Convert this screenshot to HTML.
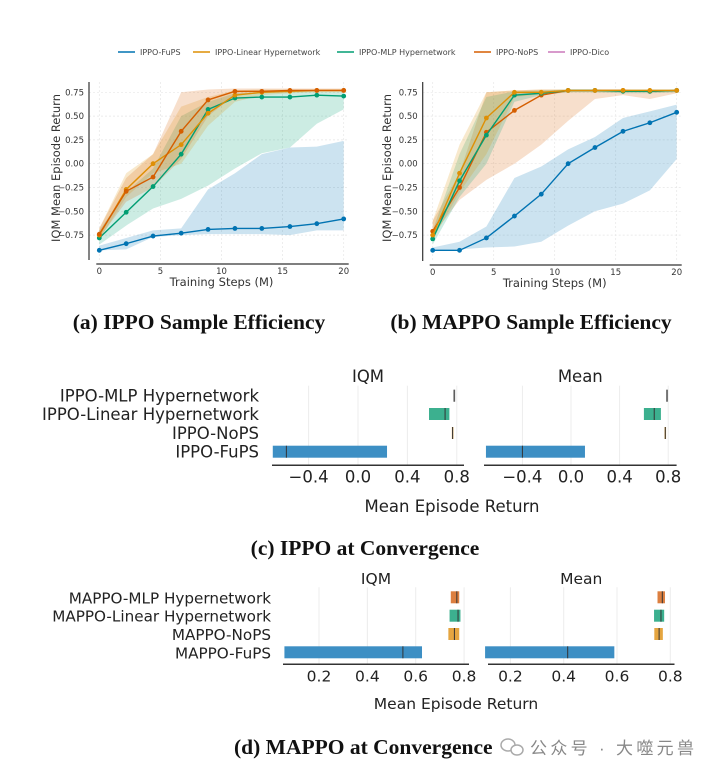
<!DOCTYPE html>
<html><head><meta charset="utf-8"><style>
html,body{margin:0;padding:0;background:#fff;width:718px;height:780px;overflow:hidden}
svg{display:block}
.tk{font-family:"DejaVu Sans","Liberation Sans",sans-serif;font-size:8.5px;fill:#333}
.lab{font-family:"DejaVu Sans","Liberation Sans",sans-serif;font-size:11.5px;fill:#333}
.big{font-family:"DejaVu Sans","Liberation Sans",sans-serif;font-size:16.5px;fill:#222}
#pd .big{font-size:15.5px}
#pd .mlab{font-size:15.2px}
.cap{font-family:"Liberation Serif",serif;font-size:21.5px;font-weight:bold;fill:#111}
.leg{font-family:"DejaVu Sans","Liberation Sans",sans-serif;font-size:8px;fill:#444}
</style></head><body>
<svg id="fig" width="718" height="780" xmlns="http://www.w3.org/2000/svg">
<g id="legend"></g>
<g id="pa"></g>
<g id="pb"></g>
<g id="pc"></g>
<g id="pd"></g>
<text class="cap" x="199" y="329" text-anchor="middle">(a) IPPO Sample Efficiency</text>
<text class="cap" x="531" y="329" text-anchor="middle">(b) MAPPO Sample Efficiency</text>
<text class="cap" x="365" y="555" text-anchor="middle">(c) IPPO at Convergence</text>
<text class="cap" x="234" y="754">(d) MAPPO at Convergence</text>
<text x="530" y="754" textLength="164" font-family="'Liberation Sans','Noto Sans CJK SC',sans-serif" font-size="17" fill="#888">公众号 · 大噬元兽</text>
<g>
<ellipse cx="508" cy="745" rx="7" ry="6" fill="none" stroke="#aaa" stroke-width="1.5"/>
<ellipse cx="517" cy="750" rx="6" ry="5" fill="#fff" stroke="#aaa" stroke-width="1.5"/>
</g>
</svg>
<script>
const NS="http://www.w3.org/2000/svg";
function mk(p,tag,at){const e=document.createElementNS(NS,tag);for(const k in at)e.setAttribute(k,at[k]);p.appendChild(e);return e;}
const COL={fups:"#0173b2",lin:"#de8f05",mlp:"#029e73",nops:"#d55e00",dico:"#cc78bc"};
const BARCOL={fups:"#3d8fc4",lin:"#e5a540",mlp:"#3cb08f",nops:"#dc7f40",gray:"#999"};

// ---- line chart data ----
const steps=[0,2.2,4.4,6.7,8.9,11.1,13.3,15.6,17.8,20];
const yTicks=[-0.75,-0.5,-0.25,0,0.25,0.5,0.75];
const yTickLabels=["\u22120.75","\u22120.50","\u22120.25","0.00","0.25","0.50","0.75"];
const xTicks=[0,5,10,15,20];
const a_fups=[-0.91,-0.84,-0.76,-0.73,-0.69,-0.68,-0.68,-0.66,-0.63,-0.58];
const a_fups_lo=[-0.91,-0.9,-0.77,-0.75,-0.74,-0.74,-0.74,-0.75,-0.7,-0.7];
const a_fups_hi=[-0.86,-0.78,-0.7,-0.68,-0.27,-0.1,0.1,0.17,0.18,0.24];
const a_lin=[-0.75,-0.27,0.0,0.2,0.53,0.72,0.75,0.76,0.77,0.77];
const a_lin_lo=[-0.8,-0.35,-0.1,0.0,0.4,0.65,0.72,0.74,0.75,0.75];
const a_lin_hi=[-0.68,-0.1,0.1,0.6,0.7,0.77,0.78,0.78,0.78,0.78];
const a_mlp=[-0.78,-0.51,-0.24,0.1,0.57,0.69,0.70,0.70,0.72,0.71];
const a_mlp_lo=[-0.85,-0.65,-0.47,-0.37,-0.23,-0.05,0.11,0.17,0.42,0.57];
const a_mlp_hi=[-0.7,-0.3,-0.05,0.5,0.65,0.74,0.75,0.76,0.76,0.76];
const a_nops=[-0.74,-0.29,-0.14,0.34,0.67,0.76,0.76,0.77,0.77,0.77];
const a_nops_lo=[-0.78,-0.4,-0.25,0.05,0.5,0.72,0.74,0.75,0.76,0.76];
const a_nops_hi=[-0.68,-0.15,0.1,0.75,0.78,0.79,0.79,0.79,0.79,0.79];
const b_fups=[-0.91,-0.91,-0.78,-0.55,-0.32,0.0,0.17,0.34,0.43,0.54];
const b_fups_lo=[-0.91,-0.9,-0.88,-0.87,-0.82,-0.65,-0.5,-0.42,-0.28,0.05];
const b_fups_hi=[-0.88,-0.82,-0.66,-0.15,-0.03,0.15,0.28,0.48,0.55,0.62];
const b_lin=[-0.75,-0.1,0.48,0.75,0.75,0.77,0.77,0.77,0.77,0.77];
const b_lin_lo=[-0.8,-0.3,0.1,0.7,0.73,0.75,0.75,0.75,0.75,0.75];
const b_lin_hi=[-0.6,0.2,0.75,0.77,0.78,0.78,0.78,0.78,0.78,0.78];
const b_mlp=[-0.79,-0.18,0.3,0.72,0.74,0.77,0.77,0.76,0.76,0.77];
const b_mlp_lo=[-0.85,-0.35,0.0,0.65,0.72,0.75,0.75,0.74,0.74,0.75];
const b_mlp_hi=[-0.7,0.1,0.7,0.76,0.77,0.78,0.78,0.78,0.78,0.78];
const b_nops=[-0.71,-0.25,0.33,0.56,0.72,0.77,0.77,0.77,0.76,0.77];
const b_nops_lo=[-0.75,-0.38,-0.17,0.0,0.2,0.45,0.68,0.72,0.68,0.74];
const b_nops_hi=[-0.6,-0.1,0.75,0.77,0.78,0.78,0.78,0.78,0.78,0.78];

// ---- bar chart data ----
const c_methods=["IPPO-MLP Hypernetwork","IPPO-Linear Hypernetwork","IPPO-NoPS","IPPO-FuPS"];
const c_keys=["gray","mlp","lin","fups"];
const c_iqm_lo=[0.775,0.575,0.76,-0.69];
const c_iqm_hi=[0.782,0.74,0.772,0.235];
const c_iqm_med=[0.778,0.705,0.766,-0.58];
const c_mean_lo=[0.786,0.6,0.77,-0.70];
const c_mean_hi=[0.792,0.74,0.782,0.115];
const c_mean_med=[0.789,0.685,0.776,-0.40];
const c_ticks=[-0.4,0,0.4,0.8];
const c_tickLabels=["\u22120.4","0.0","0.4","0.8"];
const d_methods=["MAPPO-MLP Hypernetwork","MAPPO-Linear Hypernetwork","MAPPO-NoPS","MAPPO-FuPS"];
const d_keys=["nops","mlp","lin","fups"];
const d_iqm_lo=[0.745,0.74,0.735,0.057];
const d_iqm_hi=[0.78,0.785,0.78,0.626];
const d_iqm_med=[0.77,0.775,0.76,0.547];
const d_mean_lo=[0.752,0.739,0.74,0.105];
const d_mean_hi=[0.78,0.777,0.772,0.59];
const d_mean_med=[0.77,0.765,0.758,0.415];
const d_ticks=[0.2,0.4,0.6,0.8];
const d_tickLabels=["0.2","0.4","0.6","0.8"];

// ---- legend ----
const legNames=["IPPO-FuPS","IPPO-Linear Hypernetwork","IPPO-MLP Hypernetwork","IPPO-NoPS","IPPO-Dico"];
const legKeys=["fups","lin","mlp","nops","dico"];
const legX=[118,193,337,474,548];
{const g=document.getElementById("legend");
legNames.forEach((n,i)=>{
 const l=mk(g,"line",{x1:legX[i],x2:legX[i]+17,y1:52,y2:52,stroke:COL[legKeys[i]],"stroke-width":1.5});
 
 
 const t=mk(g,"text",{x:legX[i]+22,y:55,class:"leg"});t.textContent=n;
 
 
});}

function lineChart(id,cfg,series){
 const g=document.getElementById(id);
 const X=v=>cfg.x0+(v/20)*(cfg.x20-cfg.x0);
 const Y=v=>163.7-v*95.2;
 yTicks.forEach((v,i)=>{
  const gl=mk(g,"line",{x1:cfg.ax,x2:cfg.x20+5,y1:Y(v),y2:Y(v),stroke:"#e6e6e6","stroke-width":0.7,"stroke-dasharray":"2,2"});
  
  
  const t=mk(g,"text",{x:cfg.ax-5,y:Y(v)+3,class:"tk","text-anchor":"end"});t.textContent=yTickLabels[i];
  
  
 });
 xTicks.forEach(v=>{
  const gl=mk(g,"line",{x1:X(v),x2:X(v),y1:82,y2:cfg.by-3,stroke:"#e6e6e6","stroke-width":0.7,"stroke-dasharray":"2,2"});
  
  
  const t=mk(g,"text",{x:X(v),y:cfg.by+10,class:"tk","text-anchor":"middle"});t.textContent=String(v);
  
  
 });
 series.forEach(s=>{
  let d="M"+steps.map((x,i)=>X(x)+","+Y(s.hi[i])).join("L")+"L"+steps.map((x,i)=>X(x)+","+Y(s.lo[i])).reverse().join("L")+"Z";
  const b=mk(g,"path",{d:d,fill:COL[s.k],"fill-opacity":0.2,stroke:"none"});
  
  
 });
 series.forEach(s=>{
  const p=mk(g,"polyline",{points:steps.map((x,i)=>X(x)+","+Y(s.m[i])).join(" "),fill:"none",stroke:COL[s.k],"stroke-width":1.4});
  
  
  steps.forEach((x,i)=>{const c=mk(g,"circle",{cx:X(x),cy:Y(s.m[i]),r:2.4,fill:COL[s.k]});
   
   });
 });
 const ya=mk(g,"line",{x1:cfg.ax,x2:cfg.ax,y1:82,y2:cfg.by-4,stroke:"#333","stroke-width":1.2});
 
 
 const xa=mk(g,"line",{x1:cfg.x0-3,x2:cfg.x20+5,y1:cfg.by,y2:cfg.by,stroke:"#333","stroke-width":1.2});
 
 
 const xl=mk(g,"text",{x:(cfg.x0+cfg.x20)/2,y:cfg.by+22,class:"lab","text-anchor":"middle"});xl.textContent="Training Steps (M)";
 
 
 const yl=mk(g,"text",{x:0,y:0,class:"lab","text-anchor":"middle",transform:`translate(${cfg.ylx},168) rotate(-90)`});yl.textContent="IQM Mean Episode Return";
 
 
}
lineChart("pa",{x0:99.3,x20:343.7,ax:89,by:264,ylx:60},[
 {k:"fups",m:a_fups,lo:a_fups_lo,hi:a_fups_hi},{k:"mlp",m:a_mlp,lo:a_mlp_lo,hi:a_mlp_hi},
 {k:"lin",m:a_lin,lo:a_lin_lo,hi:a_lin_hi},{k:"nops",m:a_nops,lo:a_nops_lo,hi:a_nops_hi}]);
lineChart("pb",{x0:432.7,x20:676.7,ax:422.7,by:265,ylx:391},[
 {k:"fups",m:b_fups,lo:b_fups_lo,hi:b_fups_hi},{k:"nops",m:b_nops,lo:b_nops_lo,hi:b_nops_hi},
 {k:"mlp",m:b_mlp,lo:b_mlp_lo,hi:b_mlp_hi},{k:"lin",m:b_lin,lo:b_lin_lo,hi:b_lin_hi}]);

function barPanel(g,cfg,lo,hi,med,keys,ticks,tickLabels,title){
 const X=cfg.X;
 ticks.forEach((v,i)=>{
  const gl=mk(g,"line",{x1:X(v),x2:X(v),y1:cfg.rows[0]-10,y2:cfg.axy,stroke:"#ececec","stroke-width":1});
  
  
  const t=mk(g,"text",{x:X(v),y:cfg.axy+17,class:"big","text-anchor":"middle"});t.textContent=tickLabels[i];
  
  
 });
 keys.forEach((k,i)=>{
  const x1=X(lo[i]),x2=X(hi[i]);
  const r=mk(g,"rect",{x:x1,y:cfg.rows[i]-6,width:Math.max(1.5,x2-x1),height:12,fill:BARCOL[k]});
  
  
  const m=mk(g,"line",{x1:X(med[i]),x2:X(med[i]),y1:cfg.rows[i]-6,y2:cfg.rows[i]+6,stroke:"#333","stroke-width":1});
  
  
 });
 const a=mk(g,"line",{x1:cfg.a0,x2:cfg.a1,y1:cfg.axy,y2:cfg.axy,stroke:"#333","stroke-width":1.5});
 
 
 const t=mk(g,"text",{x:(cfg.a0+cfg.a1)/2,y:cfg.ty,class:"big","text-anchor":"middle"});t.textContent=title;
 
 
}
function barChart(id,methods,keys,cfg,d){
 const g=document.getElementById(id);
 methods.forEach((n,i)=>{
  const t=mk(g,"text",{x:cfg.lx,y:cfg.rows[i]+6,class:"big mlab","text-anchor":"end"});t.textContent=n;
  
  
 });
 barPanel(g,Object.assign({},cfg,cfg.iqm),d.ilo,d.ihi,d.imed,keys,cfg.ticks,cfg.tl,"IQM");
 barPanel(g,Object.assign({},cfg,cfg.mean),d.mlo,d.mhi,d.mmed,keys,cfg.ticks,cfg.tl,"Mean");
 const xl=mk(g,"text",{x:cfg.xlx,y:cfg.xly,class:"big","text-anchor":"middle"});xl.textContent="Mean Episode Return";
 
 
}
barChart("pc",c_methods,c_keys,{lx:259,rows:[395.7,414,433,451.7],axy:465.3,ty:382,ticks:c_ticks,tl:c_tickLabels,xlx:452,xly:512,
 iqm:{X:v=>358+v*123.5,a0:272,a1:464},mean:{X:v=>571+v*121.5,a0:484,a1:676.6}},
 {ilo:c_iqm_lo,ihi:c_iqm_hi,imed:c_iqm_med,mlo:c_mean_lo,mhi:c_mean_hi,mmed:c_mean_med});
barChart("pd",d_methods,d_keys,{lx:271,rows:[597.3,615.7,634,652.3],axy:664.3,ty:584,ticks:d_ticks,tl:d_tickLabels,xlx:456,xly:709,
 iqm:{X:v=>319+(v-0.2)*241.8,a0:283,a1:469},mean:{X:v=>510.4+(v-0.2)*266.5,a0:488,a1:674.5}},
 {ilo:d_iqm_lo,ihi:d_iqm_hi,imed:d_iqm_med,mlo:d_mean_lo,mhi:d_mean_hi,mmed:d_mean_med});
</script>
</body></html>
